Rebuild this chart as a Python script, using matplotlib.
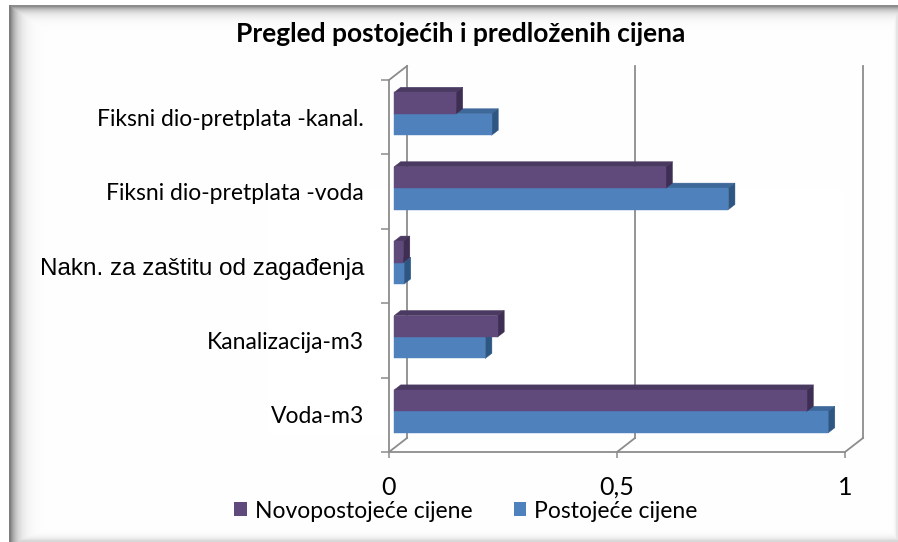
import matplotlib

matplotlib.use("Agg")
import matplotlib.pyplot as plt
import numpy as np
from matplotlib.patches import Polygon, Patch

# data
CATEGORIES = [
    "Voda-m3",
    "Kanalizacija-m3",
    "Nakn. za zaštitu od zagađenja",
    "Fiksni dio-pretplata -voda",
    "Fiksni dio-pretplata -kanal.",
]
NEW_PRICES = [0.905, 0.227, 0.020, 0.596, 0.136]
OLD_PRICES = [0.952, 0.200, 0.022, 0.733, 0.214]
SERIES = ["Novopostoje\u0107e cijene", "Postoje\u0107e cijene"]
X_TICKS = [0, 0.5, 1]
X_TICK_LABELS = ["0", "0,5", "1"]
TITLE = "Pregled postoje\u0107ih i predlo\u017eenih cijena"

# front / top / side shades
PURPLE = ("#5F4A7B", "#4A3961", "#3E2E53")
BLUE = ("#4F81BD", "#3D6899", "#2E5683")
GRID = "#8C8C8C"

W, H = 898, 542
# pseudo 3d depth of the floor, in data units
DX, DY = 0.0395, 0.188
# bars sit a little behind the front plane
BX0, BY0 = 0.28 * DX, 0.28 * DY
BDX, BDY = 0.37 * DX, 0.37 * DY
BAR_H = 0.288

plt.rcParams["font.family"] = ["Lato", "DejaVu Sans"]

fig = plt.figure(figsize=(W / 100, H / 100), dpi=100)

# background with the framed, shadowed border
bg = fig.add_axes([0, 0, 1, 1], zorder=-5)
yy, xx = np.mgrid[0:H, 0:W].astype(float)
dark = np.zeros((H, W))
dark = np.maximum(dark, 0.50 * np.exp(-np.clip(xx - 10, 0, None) / 7.0))
dark = np.maximum(dark, 0.45 * np.exp(-np.clip(yy - 6, 0, None) / 5.0))
dark = np.maximum(dark, 0.15 * np.exp(-np.clip(540 - yy, 0, None) / 3.0))
dark = np.maximum(dark, 0.10 * np.exp(-np.clip(896 - xx, 0, None) / 1.5))
dark[(xx < 9) | (yy < 5)] = 0
img = np.ones((H, W, 3)) * (1 - dark)[..., None]
bg.imshow(img, extent=(0, W, H, 0), aspect="auto", interpolation="bilinear")
bg.set_xlim(0, W)
bg.set_ylim(H, 0)
bg.axis("off")

ax = fig.add_axes([389 / W, (H - 452) / H, 456 / W, 372 / H])
ax.set_facecolor("none")
ax.set_xlim(0, 1)
ax.set_ylim(0, len(CATEGORIES))
for s in ax.spines.values():
    s.set_visible(False)

n = len(CATEGORIES)
lw = 1.3
# left wall
ax.plot([0, 0], [0, n], color=GRID, lw=lw, clip_on=False, zorder=1)
ax.plot([DX, DX], [DY, n + DY], color=GRID, lw=lw, clip_on=False, zorder=1)
ax.plot([0, DX], [n, n + DY], color=GRID, lw=lw, clip_on=False, zorder=1)
ax.plot([0, DX], [0, DY], color=GRID, lw=lw, clip_on=False, zorder=1)
# floor front edge
ax.plot([0, X_TICKS[-1]], [0, 0], color=GRID, lw=lw, clip_on=False, zorder=1)
# gridlines on back wall and floor
for v in X_TICKS[1:]:
    ax.plot([v + DX, v + DX], [DY, n + DY], color=GRID, lw=lw, clip_on=False, zorder=1)
    ax.plot([v, v + DX], [0, DY], color=GRID, lw=lw, clip_on=False, zorder=1)


def draw_box(x0, y0, w, h, colors):
    front, top, side = colors
    faces = [
        ([(x0, y0 + h), (x0 + w, y0 + h), (x0 + w + BDX, y0 + h + BDY), (x0 + BDX, y0 + h + BDY)], top),
        ([(x0 + w, y0), (x0 + w + BDX, y0 + BDY), (x0 + w + BDX, y0 + h + BDY), (x0 + w, y0 + h)], side),
        ([(x0, y0), (x0 + w, y0), (x0 + w, y0 + h), (x0, y0 + h)], front),
    ]
    for pts, c in faces:
        ax.add_patch(Polygon(pts, closed=True, facecolor=c, edgecolor=c, lw=0.3,
                             clip_on=False, zorder=3))


for i in range(n - 1, -1, -1):
    yc = i + 0.5 + BY0 * 0.85
    draw_box(BX0, yc - BAR_H, OLD_PRICES[i], BAR_H, BLUE)
    draw_box(BX0, yc, NEW_PRICES[i], BAR_H, PURPLE)

ax.set_xticks(X_TICKS, X_TICK_LABELS)
ax.tick_params(axis="x", length=4, width=1.1, color=GRID, pad=13, labelsize=18)
ax.set_yticks(np.arange(n + 1), [""] * (n + 1))
ax.set_yticks(np.arange(n) + 0.5, CATEGORIES, minor=True)
ax.tick_params(axis="y", which="major", length=6, width=1.1, color=GRID)
ax.tick_params(axis="y", which="minor", length=0, pad=18, labelsize=16.5)
for lab in ax.get_yticklabels(minor=True):
    if lab.get_text().startswith("Nakn"):
        lab.set_fontfamily(["Liberation Sans", "DejaVu Sans"])
        lab.set_fontsize(17.5)

fig.text(461 / W, 1 - 34 / H, TITLE, ha="center", va="center",
         fontsize=19, fontweight="bold")

handles = [Patch(facecolor=PURPLE[0]), Patch(facecolor=BLUE[0])]
fig.legend(handles, SERIES, loc="center", bbox_to_anchor=(466 / W, 1 - 511 / H),
           ncol=2, frameon=False, fontsize=16.5, handlelength=0.55, handleheight=0.55,
           handletextpad=0.35, columnspacing=1.8, borderpad=0)

fig.savefig("out.png", dpi=100)
